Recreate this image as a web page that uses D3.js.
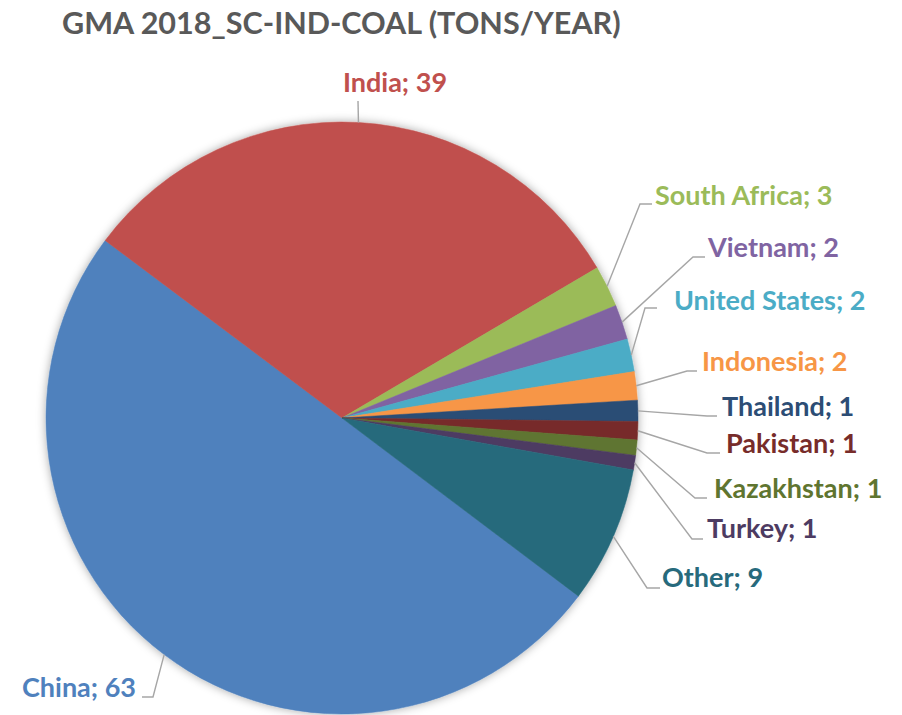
<!DOCTYPE html>
<html>
<head>
<meta charset="utf-8">
<script src="https://cdn.jsdelivr.net/npm/d3@7"></script>
<style>
  html, body { margin: 0; padding: 0; background: #ffffff; }
  svg { display: block; }
  text { font-family: Lato, "Open Sans", sans-serif; font-weight: bold; }
</style>
</head>
<body>
<script>
// ---------- DATA ----------
const title = "GMA 2018_SC-IND-COAL (TONS/YEAR)";
const categories = ["China", "India", "South Africa", "Vietnam", "United States", "Indonesia",
                    "Thailand", "Pakistan", "Kazakhstan", "Turkey", "Other"];
const values = [62.9, 39.4, 2.85, 2.4, 2.25, 1.95, 1.45, 1.25, 1.05, 1.0, 9.4];
const colors = ["#4F81BD", "#C0504D", "#9BBB59", "#8064A2", "#4BACC6", "#F79646",
                "#2C4D75", "#772C2A", "#5F7530", "#4D3B62", "#276A7C"];

// ---------- LAYOUT ----------
const W = 902, H = 715;
const cx = 342, cy = 418, R = 296;
const firstSliceDeg = 127;
// label placement (text anchor point, leader elbow, leader end)
const labelLayout = [
  { x: 136, y: 697, anchor: "end",    elbow: [153, 697], end: 142 },
  { x: 395, y: 92,  anchor: "middle", elbow: [358, 101], end: 358 },
  { x: 655, y: 205, anchor: "start",  elbow: [640, 204], end: 652 },
  { x: 708, y: 257, anchor: "start",  elbow: [693, 257], end: 705 },
  { x: 674, y: 310, anchor: "start",  elbow: [645, 308], end: 657 },
  { x: 702, y: 371, anchor: "start",  elbow: [687, 371], end: 697 },
  { x: 722, y: 416, anchor: "start",  elbow: [707, 416], end: 717 },
  { x: 726, y: 453, anchor: "start",  elbow: [707, 453], end: 720 },
  { x: 714, y: 498, anchor: "start",  elbow: [695, 498], end: 707 },
  { x: 707, y: 538, anchor: "start",  elbow: [692, 539], end: 703 },
  { x: 662, y: 587, anchor: "start",  elbow: [647, 588], end: 660 }
];

const svg = d3.select("body").append("svg").attr("width", W).attr("height", H);

// shadow filter
const defs = svg.append("defs");
const f = defs.append("filter").attr("id", "shadow")
  .attr("x", "-10%").attr("y", "-10%").attr("width", "120%").attr("height", "120%");
f.append("feGaussianBlur").attr("in", "SourceAlpha").attr("stdDeviation", 5).attr("result", "blur");
f.append("feFlood").attr("flood-color", "#000").attr("flood-opacity", 0.35).attr("result", "col");
f.append("feComposite").attr("in", "col").attr("in2", "blur").attr("operator", "in").attr("result", "sh");
const fm = f.append("feMerge");
fm.append("feMergeNode").attr("in", "sh");
fm.append("feMergeNode").attr("in", "SourceGraphic");

// title
const titleText = svg.append("text")
  .attr("x", 62).attr("y", 34)
  .attr("fill", "#595959")
  .attr("font-size", 28)
  .text(title);
// fit title width to reference span
const tw = titleText.node().getComputedTextLength();
titleText.attr("font-size", 28 * 559 / tw);

const start = firstSliceDeg * Math.PI / 180;
const pie = d3.pie().sort(null).value(d => d).startAngle(start).endAngle(start + 2 * Math.PI);
const arcs = pie(values);
const arc = d3.arc().innerRadius(0).outerRadius(R);
const edgeArc = d3.arc().innerRadius(R).outerRadius(R);

const g = svg.append("g").attr("transform", `translate(${cx},${cy})`);
g.append("g").attr("filter", "url(#shadow)")
  .selectAll("path").data(arcs).enter().append("path")
  .attr("d", arc)
  .attr("fill", (d, i) => colors[i])
  .attr("stroke", (d, i) => colors[i])
  .attr("stroke-width", 0.5);

// leader lines
svg.append("g").selectAll("polyline").data(arcs).enter().append("polyline")
  .attr("fill", "none")
  .attr("stroke", "#A6A6A6")
  .attr("stroke-width", 1.4)
  .attr("points", (d, i) => {
    const c = edgeArc.centroid(d);
    const p0 = [cx + c[0], cy + c[1]];
    const L = labelLayout[i];
    return [p0, L.elbow, [L.end, L.elbow[1]]].map(p => p.join(",")).join(" ");
  });

// labels
svg.append("g").selectAll("text").data(arcs).enter().append("text")
  .attr("x", (d, i) => labelLayout[i].x)
  .attr("y", (d, i) => labelLayout[i].y)
  .attr("text-anchor", (d, i) => labelLayout[i].anchor)
  .attr("font-size", 27)
  .attr("fill", (d, i) => colors[i])
  .text((d, i) => `${categories[i]}; ${Math.round(values[i])}`);
</script>
</body>
</html>
